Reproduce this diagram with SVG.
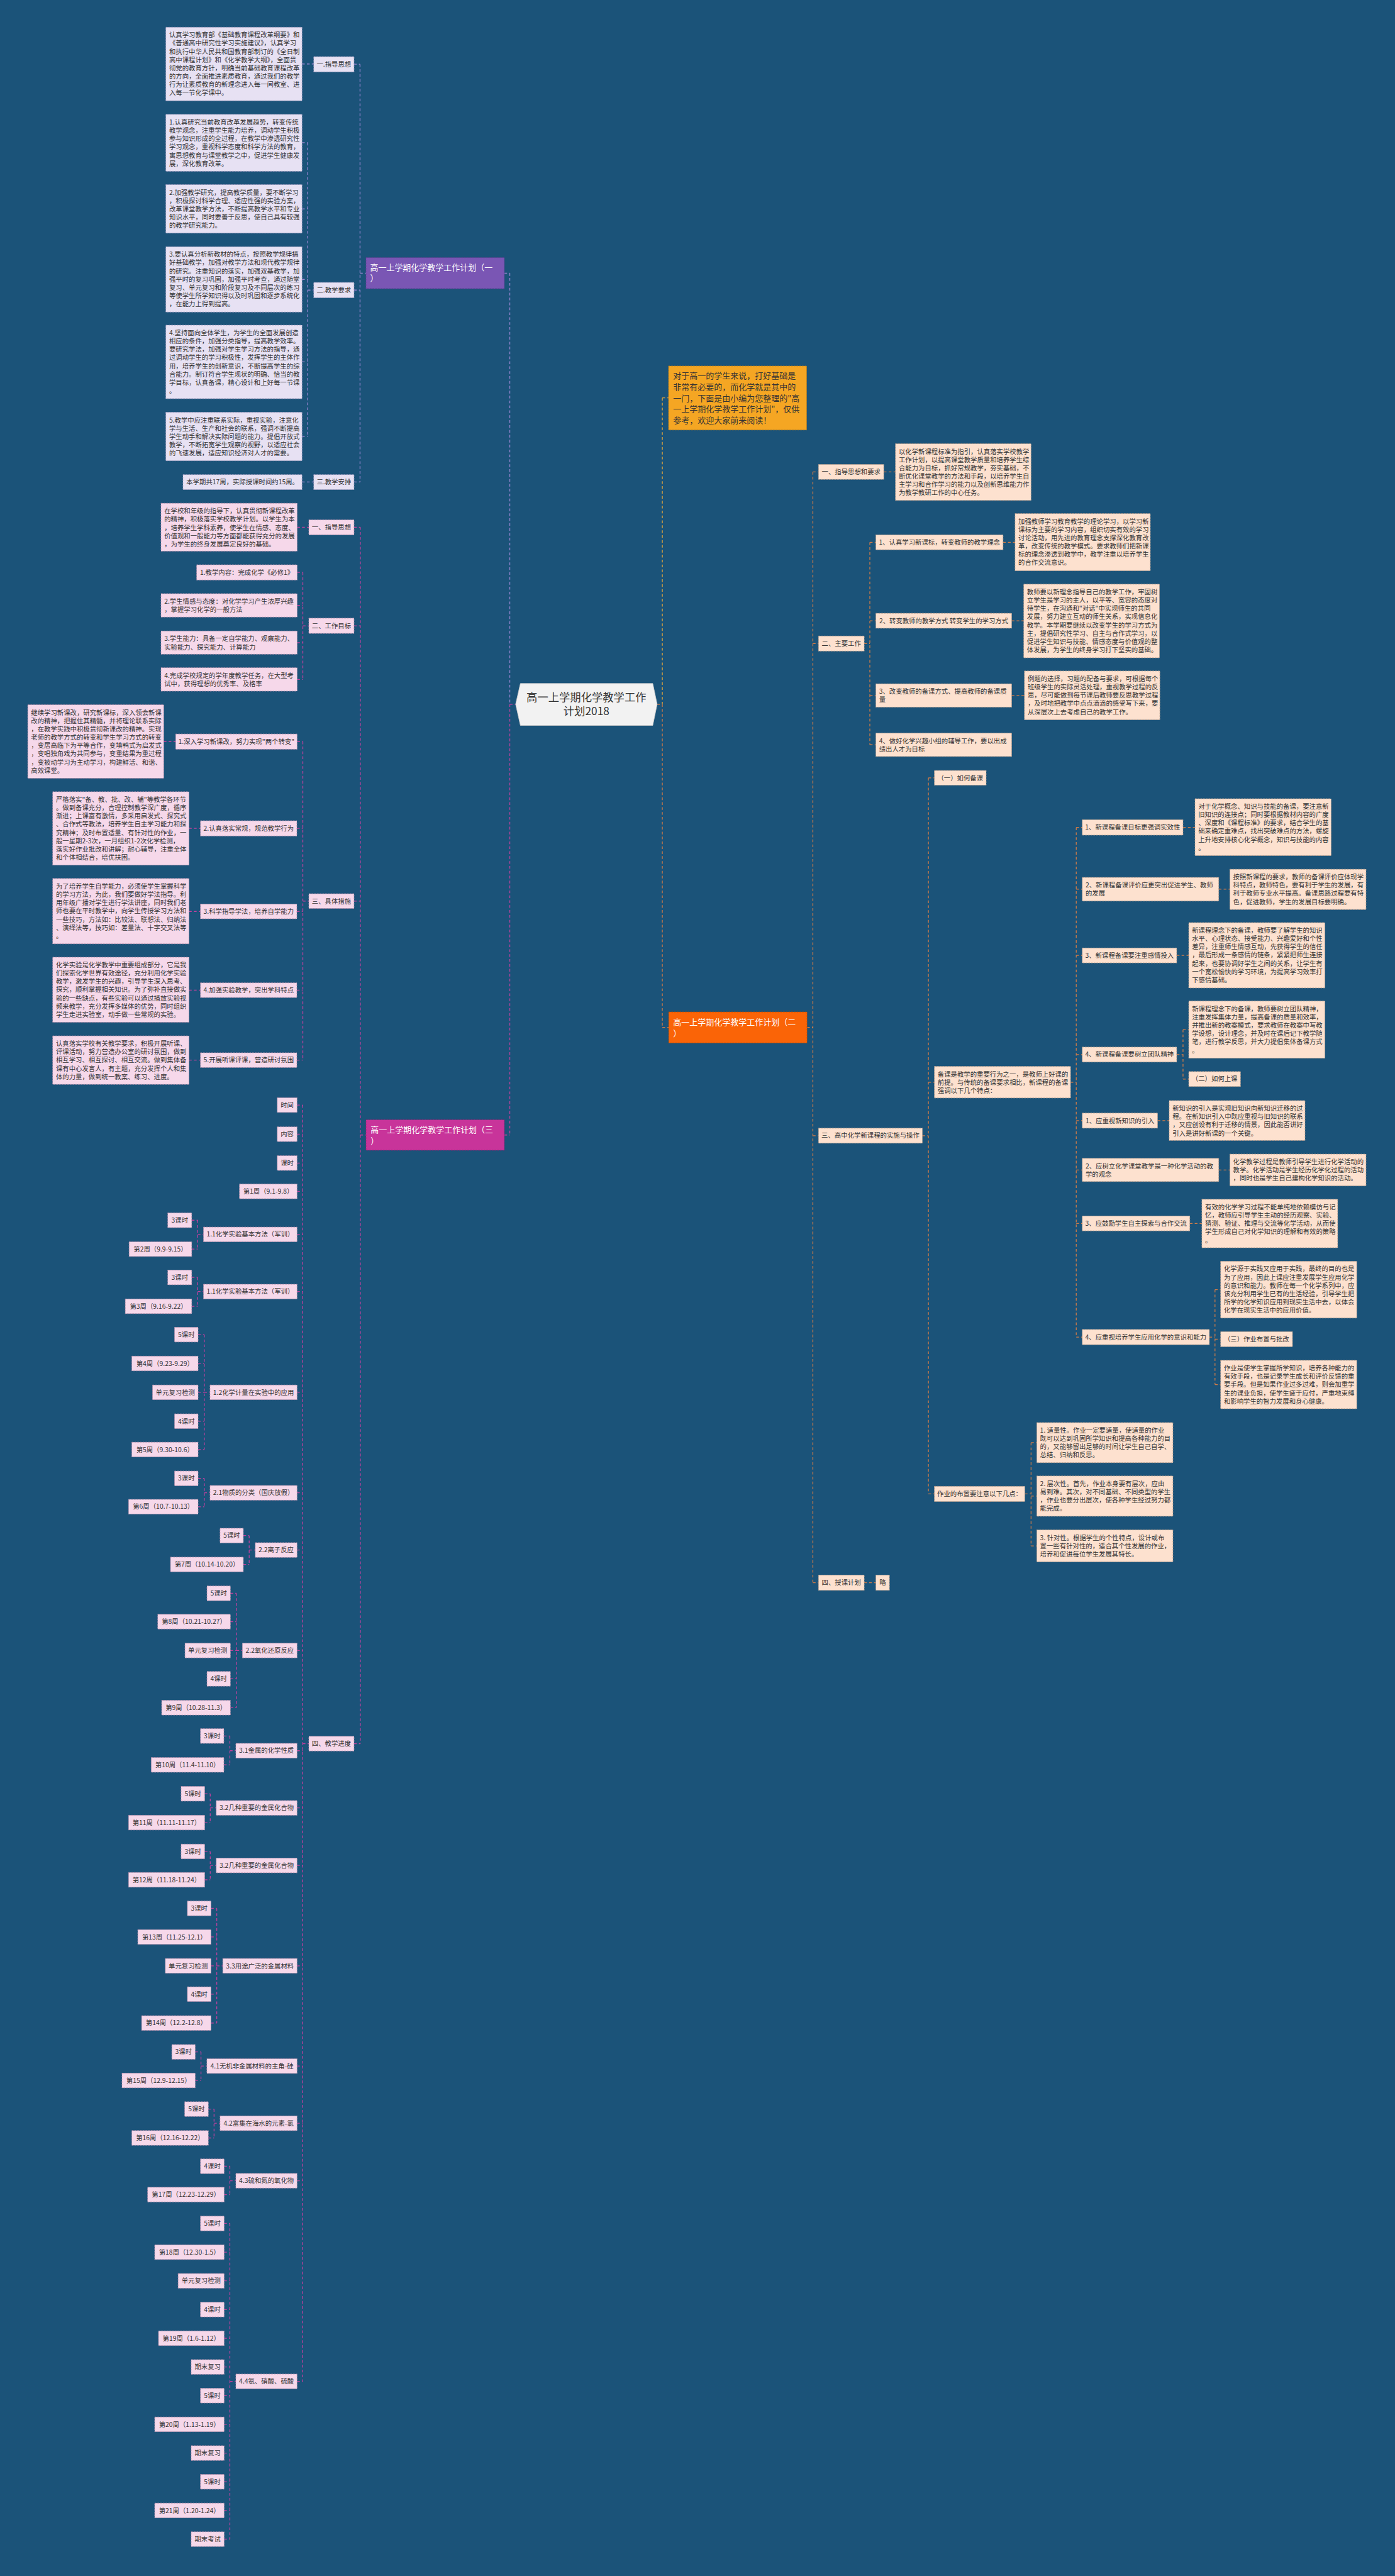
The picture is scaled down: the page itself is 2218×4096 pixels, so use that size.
<svg xmlns="http://www.w3.org/2000/svg" width="2218" height="4096" viewBox="0 0 2218 4096">
<style>
.t{font-family:"Noto Sans CJK SC","Noto Sans",sans-serif;font-size:12px;fill:#333}
.c{text-anchor:middle}
.tw{font-family:"Noto Sans CJK SC","Noto Sans",sans-serif;font-size:15px;fill:#fff}
.ti{font-family:"Noto Sans CJK SC","Noto Sans",sans-serif;font-size:15px;fill:#333}
.tr{font-family:"Noto Sans CJK SC","Noto Sans",sans-serif;font-size:20px;fill:#333;text-anchor:middle}
.nl{fill:#e7e1f3;stroke:#a49cc2;stroke-width:1;stroke-dasharray:3 2}
.np{fill:#f6d8ea;stroke:#b98fab;stroke-width:1;stroke-dasharray:3 2}
.no{fill:#fde1cf;stroke:#b99c8a;stroke-width:1;stroke-dasharray:3 2}
.lp{fill:none;stroke:#9a86d2;stroke-width:1.5;stroke-dasharray:5 4}
.lm{fill:none;stroke:#c2409f;stroke-width:1.5;stroke-dasharray:5 4}
.lo{fill:none;stroke:#cf7b48;stroke-width:1.5;stroke-dasharray:5 4}
.ly{fill:none;stroke:#e8a83a;stroke-width:1.5;stroke-dasharray:5 4}
</style>
<rect x="0" y="0" width="2218" height="4096" fill="#1b5379"/>
<g transform="scale(0.866)">
<g id="connectors">
<path class="lp" d="M936 501.5V1293M926 501.5H936M661 118V885M650 118H661M650 532.6H661M650 885H661M661 501.5H672M554.5 117.5H576M565 262V801.5M554.5 262H565M554.5 383.5H565M554.5 513H565M554.5 664.5H565M554.5 801.5H565M565 532.6H576M554.5 885H576"/>
<path class="lm" d="M936 1293V2084M926 2084H936M936 1293H946.7M661.5 968V3201.5M650 968H661.5M650 1149H661.5M650 1654.5H661.5M650 3201.5H661.5M661.5 2084H672M545.6 968H567M556 1051V1247.5M545.6 1051H556M545.6 1111.5H556M545.6 1180H556M545.6 1247.5H556M556 1149H567M556 1361.7V1946.5M545.6 1361.7H556M545 1521H556M545 1673.5H556M545 1818H556M545 1946.5H556M556 1654.5H567M300.6 1361.7H322.5M347 1521H368M347 1673.5H368M347 1818H368M347 1946.5H368"/>
<path class="lm" d="M555.7 2029V4372.5M555.7 3201.5H567M545.4 2029H555.7M545.4 2082.5H555.7M545.4 2135.5H555.7M545.4 2187.5H555.7M545.4 2266.5H555.7M545.4 2371.5H555.7M545.4 2556.5H555.7M545.4 2741H555.7M545.4 2846H555.7M545.4 3030.5H555.7M545.4 3214.5H555.7M545.4 3319.5H555.7M545.4 3425.2H555.7M545.4 3609.5H555.7M545.4 3793.5H555.7M545.4 3898.5H555.7M545.4 4004.1H555.7M545.4 4372.5H555.7"/>
<path class="lm" d="M352 2240.5H363M352 2293.5H363M363 2240.5V2293.5M363 2266.5H373.6M352 2345.5H363M352 2398.5H363M363 2345.5V2398.5M363 2371.5H373.6M363.75 2450.5H375M363.75 2503.5H375M363.75 2556.5H375M363.75 2609.5H375M363.75 2661.5H375M375 2450.5V2661.5M375 2556.5H385.6M363.75 2714.5H375M363.75 2766.5H375M375 2714.5V2766.5M375 2741H385.6M446.8 2819.5H457.5M446.8 2872.5H457.5M457.5 2819.5V2872.5M457.5 2846H468.7M423 2925.5H434M423 2977.5H434M423 3030.5H434M423 3082.5H434M423 3135.5H434M434 2925.5V3135.5M434 3030.5H445M411 3187.5H422M411 3240.5H422M422 3187.5V3240.5M422 3214.5H433M375.8 3293.5H386M375.8 3346.5H386M386 3293.5V3346.5M386 3319.5H397M375.8 3399.5H386M375.8 3451.5H386M386 3399.5V3451.5M386 3425.2H397M387.4 3504H398M387.4 3556.5H398M387.4 3609.5H398M387.4 3661.5H398M387.4 3714.5H398M398 3504V3714.5M398 3609.5H409M358.4 3767.5H369M358.4 3820H369M369 3767.5V3820M369 3793.5H379.8M382.5 3872.5H393M382.5 3925.5H393M393 3872.5V3925.5M393 3898.5H404M411.5 3977.5H422M411.5 4029.5H422M422 3977.5V4029.5M422 4004.1H433M422 4082.5V4662.2M422 4372.5H433M411.5 4082.5H422M411.5 4135.2H422M411.5 4187.9H422M411.5 4240.6H422M411.5 4293.3H422M411.5 4346H422M411.5 4398.7H422M411.5 4451.4H422M411.5 4504.1H422M411.5 4556.8H422M411.5 4609.5H422M411.5 4662.2H422"/>
<path class="ly" d="M1216 730.6V1293M1216 730.6H1227.4"/>
<path class="lo" d="M1206.5 1293H1216M1216 1293V1886.5M1216 1886.5H1227.7M1481.7 1886.5H1492.4M1492.4 866.4V2906M1492.4 866.4H1502.7M1492.4 1181.6H1502.7M1492.4 2085.2H1502.7M1492.4 2906H1502.7M1622.6 866.4H1644M1586.7 1181.6H1597M1597 995.7V1367.5M1597 995.7H1608M1597 1139.8H1608M1597 1277H1608M1597 1367.5H1608M1841.6 995.7H1863.6M1857.4 1139.8H1879.5M1857.4 1277H1880.8M1693.5 2085.2H1704.5M1704.5 1428.2V2743M1704.5 1428.2H1715.5M1704.5 1987H1715.5M1704.5 2743H1715.5M1965.5 1987H1976M1976 1519.2V2455M1976 1519.2H1987M1976 1632.7H1987M1976 1754.3H1987M1976 1936.3H1987M1976 2057.6H1987M1976 2148.2H1987M1976 2246.4H1987M1976 2455H1987M2172 1519.2H2194M2237.6 1632.7H2258M2160.4 1754.3H2182.5M2160.4 1936.3H2172M2172 1890.5V1981.3M2172 1890.5H2182.5M2172 1981.3H2182.5M2125.3 2057.6H2146.6M2237.6 2148.2H2258M2184.5 2246.4H2206.6M2220.4 2455H2230.7M2230.7 2367.9V2542.2M2230.7 2367.9H2241M2230.7 2458.9H2241M2230.7 2542.2H2241M1881.5 2743H1893M1893 2648.9V2838.4M1893 2648.9H1903.5M1893 2747H1903.5M1893 2838.4H1903.5M1586.7 2906H1608"/>
</g>
<g id="root"><polygon points="955.4,1255 1198.5,1255 1206.5,1293 1198.5,1332 955.4,1332 946.7,1293" fill="#f2f2f2" stroke="#cccccc" stroke-width="1"/><text class="tr" x="1076.6" y="1287.6">高一上学期化学教学工作</text><text class="tr" x="1076.6" y="1313">计划2018</text></g>
<g id="intro"><rect x="1227.4" y="672" width="253.6" height="117.5" fill="#f5a623" stroke="#b07a20" stroke-width="1" stroke-dasharray="3 2"/><text class="ti" x="1236" y="695.7"><tspan x="1236">对于高一的学生来说，打好基础是</tspan><tspan x="1236" dy="20.3">非常有必要的，而化学就是其中的</tspan><tspan x="1236" dy="20.3">一门，下面是由小编为您整理的"高</tspan><tspan x="1236" dy="20.3">一上学期化学教学工作计划"，仅供</tspan><tspan x="1236" dy="20.3">参考，欢迎大家前来阅读！</tspan></text></g>
<g id="title1"><rect x="672" y="473" width="254" height="57" fill="#7a56b4" stroke="#5c3f90" stroke-width="1" stroke-dasharray="3 2"/><text class="tw" x="679.5" y="497.1"><tspan x="679.5">高一上学期化学教学工作计划（一</tspan><tspan x="679.5" dy="19.3">）</tspan></text></g>
<g id="title2"><rect x="1227.7" y="1858" width="254" height="57" fill="#fa6407" stroke="#b04800" stroke-width="1" stroke-dasharray="3 2"/><text class="tw" x="1236" y="1882.6"><tspan x="1236">高一上学期化学教学工作计划（二</tspan><tspan x="1236" dy="20">）</tspan></text></g>
<g id="title3"><rect x="672" y="2056" width="254" height="56" fill="#c8349a" stroke="#8e2070" stroke-width="1" stroke-dasharray="3 2"/><text class="tw" x="680.5" y="2080.2"><tspan x="680.5">高一上学期化学教学工作计划（三</tspan><tspan x="680.5" dy="19.8">）</tspan></text></g>

<g id="p1-l1"><rect class="nl" x="576" y="104" width="74" height="28"/><text class="t c" x="613" y="122.3">一.指导思想</text></g>
<g id="p1-a"><rect class="nl" x="304.5" y="50" width="250" height="135"/><text class="t" x="310.5" y="68.5"><tspan x="310.5">认真学习教育部《基础教育课程改革纲要》和</tspan><tspan x="310.5" dy="15.2">《普通高中研究性学习实施建议》，认真学习</tspan><tspan x="310.5" dy="15.2">和执行中华人民共和国教育部制订的《全日制</tspan><tspan x="310.5" dy="15.2">高中课程计划》和《化学教学大纲》，全面贯</tspan><tspan x="310.5" dy="15.2">彻党的教育方针，明确当前基础教育课程改革</tspan><tspan x="310.5" dy="15.2">的方向，全面推进素质教育，通过我们的教学</tspan><tspan x="310.5" dy="15.2">行为让素质教育的新理念进入每一间教室、进</tspan><tspan x="310.5" dy="15.2">入每一节化学课中。</tspan></text></g>
<g id="p1-l2"><rect class="nl" x="576" y="518.6" width="74" height="28.1"/><text class="t c" x="613" y="536.9">二.教学要求</text></g>
<g id="p1-b1"><rect class="nl" x="304.5" y="210" width="250" height="104.5"/><text class="t" x="310.5" y="228.5"><tspan x="310.5">1.认真研究当前教育改革发展趋势，转变传统</tspan><tspan x="310.5" dy="15.2">教学观念，注重学生能力培养，调动学生积极</tspan><tspan x="310.5" dy="15.2">参与知识形成的全过程，在教学中渗透研究性</tspan><tspan x="310.5" dy="15.2">学习观念，重视科学态度和科学方法的教育，</tspan><tspan x="310.5" dy="15.2">寓思想教育与课堂教学之中，促进学生健康发</tspan><tspan x="310.5" dy="15.2">展，深化教育改革。</tspan></text></g>
<g id="p1-b2"><rect class="nl" x="304.5" y="339" width="250" height="89"/><text class="t" x="310.5" y="357.5"><tspan x="310.5">2.加强教学研究，提高教学质量，要不断学习</tspan><tspan x="310.5" dy="15.2">，积极探讨科学合理、适应性强的实验方案，</tspan><tspan x="310.5" dy="15.2">改革课堂教学方法，不断提高教学水平和专业</tspan><tspan x="310.5" dy="15.2">知识水平，同时要善于反思，使自己具有较强</tspan><tspan x="310.5" dy="15.2">的教学研究能力。</tspan></text></g>
<g id="p1-b3"><rect class="nl" x="304.5" y="453" width="250" height="120"/><text class="t" x="310.5" y="471.5"><tspan x="310.5">3.要认真分析新教材的特点，按照教学规律搞</tspan><tspan x="310.5" dy="15.2">好基础教学，加强对教学方法和现代教学规律</tspan><tspan x="310.5" dy="15.2">的研究。注重知识的落实，加强双基教学，加</tspan><tspan x="310.5" dy="15.2">强平时的复习巩固，加强平时考查，通过随堂</tspan><tspan x="310.5" dy="15.2">复习、单元复习和阶段复习及不同层次的练习</tspan><tspan x="310.5" dy="15.2">等使学生所学知识得以及时巩固和逐步系统化</tspan><tspan x="310.5" dy="15.2">，在能力上得到提高。</tspan></text></g>
<g id="p1-b4"><rect class="nl" x="304.5" y="597" width="250" height="135"/><text class="t" x="310.5" y="615.5"><tspan x="310.5">4.坚持面向全体学生，为学生的全面发展创造</tspan><tspan x="310.5" dy="15.2">相应的条件，加强分类指导，提高教学效率。</tspan><tspan x="310.5" dy="15.2">要研究学法，加强对学生学习方法的指导，通</tspan><tspan x="310.5" dy="15.2">过调动学生的学习积极性，发挥学生的主体作</tspan><tspan x="310.5" dy="15.2">用，培养学生的创新意识，不断提高学生的综</tspan><tspan x="310.5" dy="15.2">合能力。制订符合学生现状的明确、恰当的教</tspan><tspan x="310.5" dy="15.2">学目标，认真备课，精心设计和上好每一节课</tspan><tspan x="310.5" dy="15.2">。</tspan></text></g>
<g id="p1-b5"><rect class="nl" x="304.5" y="757" width="250" height="89"/><text class="t" x="310.5" y="775.5"><tspan x="310.5">5.教学中应注重联系实际，重视实验，注意化</tspan><tspan x="310.5" dy="15.2">学与生活、生产和社会的联系，强调不断提高</tspan><tspan x="310.5" dy="15.2">学生动手和解决实际问题的能力。提倡开放式</tspan><tspan x="310.5" dy="15.2">教学，不断拓宽学生观察的视野，以适应社会</tspan><tspan x="310.5" dy="15.2">的飞速发展，适应知识经济对人才的需要。</tspan></text></g>
<g id="p1-l3"><rect class="nl" x="576" y="871.5" width="74" height="27.5"/><text class="t c" x="613" y="889.5">三.教学安排</text></g>
<g id="p1-c"><rect class="nl" x="336" y="871.5" width="218.5" height="27.5"/><text class="t c" x="445.3" y="889.5">本学期共17周，实际授课时间约15周。</text></g>

<g id="p3-l1"><rect class="np" x="567" y="954.5" width="83" height="27.5"/><text class="t c" x="608.5" y="972.5">一、指导思想</text></g>
<g id="p3-a"><rect class="np" x="295.6" y="924" width="250" height="88"/><text class="t" x="301.6" y="942.5"><tspan x="301.6">在学校和年级的指导下，认真贯彻新课程改革</tspan><tspan x="301.6" dy="15.2">的精神，积极落实学校教学计划。以学生为本</tspan><tspan x="301.6" dy="15.2">，培养学生学科素养，使学生在情感、态度、</tspan><tspan x="301.6" dy="15.2">价值观和一般能力等方面都能获得充分的发展</tspan><tspan x="301.6" dy="15.2">，为学生的终身发展奠定良好的基础。</tspan></text></g>
<g id="p3-l2"><rect class="np" x="567" y="1135" width="83" height="28"/><text class="t c" x="608.5" y="1153.3">二、工作目标</text></g>
<g id="p3-g1"><rect class="np" x="361" y="1037" width="184.6" height="28"/><text class="t c" x="453.3" y="1055.3">1.教学内容：完成化学《必修1》</text></g>
<g id="p3-g2"><rect class="np" x="295.6" y="1090" width="250" height="43"/><text class="t" x="301.6" y="1108.5"><tspan x="301.6">2.学生情感与态度：对化学学习产生浓厚兴趣</tspan><tspan x="301.6" dy="15.2">，掌握学习化学的一般方法</tspan></text></g>
<g id="p3-g3"><rect class="np" x="295.6" y="1158.6" width="250" height="42.6"/><text class="t" x="301.6" y="1177.1"><tspan x="301.6">3.学生能力：具备一定自学能力、观察能力、</tspan><tspan x="301.6" dy="15.2">实验能力、探究能力、计算能力</tspan></text></g>
<g id="p3-g4"><rect class="np" x="295.6" y="1226" width="250" height="43"/><text class="t" x="301.6" y="1244.5"><tspan x="301.6">4.完成学校规定的学年度教学任务，在大型考</tspan><tspan x="301.6" dy="15.2">试中，获得理想的优秀率、及格率</tspan></text></g>
<g id="p3-l3"><rect class="np" x="567" y="1641" width="83" height="27"/><text class="t c" x="608.5" y="1658.8">三、具体措施</text></g>
<g id="p3-m1"><rect class="np" x="322.5" y="1347.7" width="223" height="28"/><text class="t c" x="434" y="1366">1.深入学习新课改，努力实现"两个转变"</text></g>
<g id="p3-m1t"><rect class="np" x="51" y="1294" width="249.6" height="135"/><text class="t" x="57" y="1312.5"><tspan x="57">继续学习新课改，研究新课标，深入领会新课</tspan><tspan x="57" dy="15.2">改的精神，把握住其精髓，并将理论联系实际</tspan><tspan x="57" dy="15.2">，在教学实践中积极贯彻新课改的精神。实现</tspan><tspan x="57" dy="15.2">老师的教学方式的转变和学生学习方式的转变</tspan><tspan x="57" dy="15.2">，变居高临下为平等合作，变填鸭式为启发式</tspan><tspan x="57" dy="15.2">，变唱独角戏为共同参与，变重结果为重过程</tspan><tspan x="57" dy="15.2">，变被动学习为主动学习，构建鲜活、和谐、</tspan><tspan x="57" dy="15.2">高效课堂。</tspan></text></g>
<g id="p3-m2"><rect class="np" x="368" y="1507" width="177" height="28"/><text class="t c" x="456.5" y="1525.3">2.认真落实常规，规范教学行为</text></g>
<g id="p3-m2t"><rect class="np" x="96.7" y="1453.7" width="250.3" height="134.7"/><text class="t" x="102.7" y="1472.2"><tspan x="102.7">严格落实"备、教、批、改、辅"等教学各环节</tspan><tspan x="102.7" dy="15.2">。做到备课充分，合理控制教学深广度，循序</tspan><tspan x="102.7" dy="15.2">渐进；上课富有激情，多采用启发式、探究式</tspan><tspan x="102.7" dy="15.2">、合作式等教法，培养学生自主学习能力和探</tspan><tspan x="102.7" dy="15.2">究精神；及时布置适量、有针对性的作业，一</tspan><tspan x="102.7" dy="15.2">般一星期2-3次，一月组织1-2次化学检测，</tspan><tspan x="102.7" dy="15.2">落实好作业批改和讲解；耐心辅导，注重全体</tspan><tspan x="102.7" dy="15.2">和个体相结合，培优扶困。</tspan></text></g>
<g id="p3-m3"><rect class="np" x="368" y="1660" width="177" height="27"/><text class="t c" x="456.5" y="1677.8">3.科学指导学法，培养自学能力</text></g>
<g id="p3-m3t"><rect class="np" x="96.7" y="1613" width="250.3" height="120"/><text class="t" x="102.7" y="1631.5"><tspan x="102.7">为了培养学生自学能力，必须使学生掌握科学</tspan><tspan x="102.7" dy="15.2">的学习方法，为此，我们要做好学法指导。利</tspan><tspan x="102.7" dy="15.2">用年级广播对学生进行学法讲座，同时我们老</tspan><tspan x="102.7" dy="15.2">师也要在平时教学中，向学生传授学习方法和</tspan><tspan x="102.7" dy="15.2">一些技巧，方法如：比较法、联想法、归纳法</tspan><tspan x="102.7" dy="15.2">、演绎法等，技巧如：差量法、十字交叉法等</tspan><tspan x="102.7" dy="15.2">。</tspan></text></g>
<g id="p3-m4"><rect class="np" x="368" y="1804.6" width="177" height="27"/><text class="t c" x="456.5" y="1822.3">4.加强实验教学，突出学科特点</text></g>
<g id="p3-m4t"><rect class="np" x="96.7" y="1757.5" width="250.3" height="119.5"/><text class="t" x="102.7" y="1776"><tspan x="102.7">化学实验是化学教学中重要组成部分，它是我</tspan><tspan x="102.7" dy="15.2">们探索化学世界有效途径，充分利用化学实验</tspan><tspan x="102.7" dy="15.2">教学，激发学生的兴趣，引导学生深入思考、</tspan><tspan x="102.7" dy="15.2">探究，顺利掌握相关知识。为了弥补直接做实</tspan><tspan x="102.7" dy="15.2">验的一些缺点，有些实验可以通过播放实验视</tspan><tspan x="102.7" dy="15.2">频来教学，充分发挥多媒体的优势，同时组织</tspan><tspan x="102.7" dy="15.2">学生走进实验室，动手做一些常规的实验。</tspan></text></g>
<g id="p3-m5"><rect class="np" x="368" y="1933" width="177" height="27"/><text class="t c" x="456.5" y="1950.8">5.开展听课评课，营造研讨氛围</text></g>
<g id="p3-m5t"><rect class="np" x="96.7" y="1902" width="250.3" height="89"/><text class="t" x="102.7" y="1920.5"><tspan x="102.7">认真落实学校有关教学要求，积极开展听课、</tspan><tspan x="102.7" dy="15.2">评课活动，努力营造办公室的研讨氛围，做到</tspan><tspan x="102.7" dy="15.2">相互学习、相互探讨、相互交流。做到集体备</tspan><tspan x="102.7" dy="15.2">课有中心发言人，有主题，充分发挥个人和集</tspan><tspan x="102.7" dy="15.2">体的力量，做到统一教案、练习、进度。</tspan></text></g>
<g id="p3-l4"><rect class="np" x="567" y="3188" width="83" height="27"/><text class="t c" x="608.5" y="3205.8">四、教学进度</text></g>

<g id="s1"><rect class="np" x="509" y="2015.5" width="36.4" height="27"/><text class="t c" x="527.2" y="2033.3">时间</text></g>
<g id="s2"><rect class="np" x="509" y="2069" width="36.4" height="27"/><text class="t c" x="527.2" y="2086.8">内容</text></g>
<g id="s3"><rect class="np" x="509" y="2122" width="36.4" height="27"/><text class="t c" x="527.2" y="2139.8">课时</text></g>
<g id="s4"><rect class="np" x="439.6" y="2174" width="105.8" height="27"/><text class="t c" x="492.5" y="2191.8">第1周（9.1-9.8）</text></g>
<g id="s5"><rect class="np" x="373.6" y="2253" width="171.8" height="27"/><text class="t c" x="459.5" y="2270.8">1.1化学实验基本方法（军训）</text></g>
<g id="s5a"><rect class="np" x="308" y="2227" width="44" height="27"/><text class="t c" x="330" y="2244.8">3课时</text></g>
<g id="s5b"><rect class="np" x="237" y="2280" width="115" height="27"/><text class="t c" x="294.5" y="2297.8">第2周（9.9-9.15）</text></g>
<g id="s6"><rect class="np" x="373.6" y="2358" width="171.8" height="27"/><text class="t c" x="459.5" y="2375.8">1.1化学实验基本方法（军训）</text></g>
<g id="s6a"><rect class="np" x="308" y="2332" width="44" height="27"/><text class="t c" x="330" y="2349.8">3课时</text></g>
<g id="s6b"><rect class="np" x="230" y="2385" width="122" height="27"/><text class="t c" x="291" y="2402.8">第3周（9.16-9.22）</text></g>
<g id="s7"><rect class="np" x="385.6" y="2543" width="159.8" height="27"/><text class="t c" x="465.5" y="2560.8">1.2化学计量在实验中的应用</text></g>
<g id="s7a"><rect class="np" x="320.4" y="2437" width="43.35" height="27"/><text class="t c" x="342.1" y="2454.8">5课时</text></g>
<g id="s7b"><rect class="np" x="242" y="2490" width="121.75" height="27"/><text class="t c" x="302.9" y="2507.8">第4周（9.23-9.29）</text></g>
<g id="s7c"><rect class="np" x="280" y="2543" width="83.75" height="27"/><text class="t c" x="321.9" y="2560.8">单元复习检测</text></g>
<g id="s7d"><rect class="np" x="320.4" y="2596" width="43.35" height="27"/><text class="t c" x="342.1" y="2613.8">4课时</text></g>
<g id="s7e"><rect class="np" x="242" y="2648" width="121.75" height="27"/><text class="t c" x="302.9" y="2665.8">第5周（9.30-10.6）</text></g>
<g id="s8"><rect class="np" x="385.6" y="2727.5" width="159.8" height="27"/><text class="t c" x="465.5" y="2745.3">2.1物质的分类（国庆放假）</text></g>
<g id="s8a"><rect class="np" x="320.4" y="2701" width="43.35" height="27"/><text class="t c" x="342.1" y="2718.8">3课时</text></g>
<g id="s8b"><rect class="np" x="236" y="2753" width="127.75" height="27"/><text class="t c" x="299.9" y="2770.8">第6周（10.7-10.13）</text></g>
<g id="s9"><rect class="np" x="468.7" y="2832.5" width="76.7" height="27"/><text class="t c" x="507" y="2850.3">2.2离子反应</text></g>
<g id="s9a"><rect class="np" x="404" y="2806" width="42.8" height="27"/><text class="t c" x="425.4" y="2823.8">5课时</text></g>
<g id="s9b"><rect class="np" x="313" y="2859" width="133.8" height="27"/><text class="t c" x="379.9" y="2876.8">第7周（10.14-10.20）</text></g>
<g id="s10"><rect class="np" x="445" y="3017" width="100.4" height="27"/><text class="t c" x="495.2" y="3034.8">2.2氧化还原反应</text></g>
<g id="s10a"><rect class="np" x="380" y="2912" width="43" height="27"/><text class="t c" x="401.5" y="2929.8">5课时</text></g>
<g id="s10b"><rect class="np" x="289.6" y="2964" width="133.4" height="27"/><text class="t c" x="356.3" y="2981.8">第8周（10.21-10.27）</text></g>
<g id="s10c"><rect class="np" x="339.6" y="3017" width="83.4" height="27"/><text class="t c" x="381.3" y="3034.8">单元复习检测</text></g>
<g id="s10d"><rect class="np" x="380" y="3069" width="43" height="27"/><text class="t c" x="401.5" y="3086.8">4课时</text></g>
<g id="s10e"><rect class="np" x="296.8" y="3122" width="126.2" height="27"/><text class="t c" x="359.9" y="3139.8">第9周（10.28-11.3）</text></g>
<g id="s11"><rect class="np" x="433" y="3201" width="112.4" height="27"/><text class="t c" x="489.2" y="3218.8">3.1金属的化学性质</text></g>
<g id="s11a"><rect class="np" x="368" y="3174" width="43" height="27"/><text class="t c" x="389.5" y="3191.8">3课时</text></g>
<g id="s11b"><rect class="np" x="277.6" y="3227" width="133.4" height="27"/><text class="t c" x="344.3" y="3244.8">第10周（11.4-11.10）</text></g>
<g id="s12"><rect class="np" x="397" y="3306" width="148.4" height="27"/><text class="t c" x="471.2" y="3323.8">3.2几种重要的金属化合物</text></g>
<g id="s12a"><rect class="np" x="332.5" y="3280" width="43.3" height="27"/><text class="t c" x="354.2" y="3297.8">5课时</text></g>
<g id="s12b"><rect class="np" x="236" y="3333" width="139.8" height="27"/><text class="t c" x="305.9" y="3350.8">第11周（11.11-11.17）</text></g>
<g id="s13"><rect class="np" x="397" y="3411.7" width="148.4" height="27"/><text class="t c" x="471.2" y="3429.5">3.2几种重要的金属化合物</text></g>
<g id="s13a"><rect class="np" x="332.5" y="3386" width="43.3" height="27"/><text class="t c" x="354.2" y="3403.8">3课时</text></g>
<g id="s13b"><rect class="np" x="236" y="3438" width="139.8" height="27"/><text class="t c" x="305.9" y="3455.8">第12周（11.18-11.24）</text></g>
<g id="s14"><rect class="np" x="409" y="3596" width="136.4" height="27"/><text class="t c" x="477.2" y="3613.8">3.3用途广泛的金属材料</text></g>
<g id="s14a"><rect class="np" x="344" y="3490.5" width="43.4" height="27"/><text class="t c" x="365.7" y="3508.3">3课时</text></g>
<g id="s14b"><rect class="np" x="253" y="3543" width="134.4" height="27"/><text class="t c" x="320.2" y="3560.8">第13周（11.25-12.1）</text></g>
<g id="s14c"><rect class="np" x="303.5" y="3596" width="83.9" height="27"/><text class="t c" x="345.5" y="3613.8">单元复习检测</text></g>
<g id="s14d"><rect class="np" x="344" y="3648" width="43.4" height="27"/><text class="t c" x="365.7" y="3665.8">4课时</text></g>
<g id="s14e"><rect class="np" x="260" y="3701" width="127.4" height="27"/><text class="t c" x="323.7" y="3718.8">第14周（12.2-12.8）</text></g>
<g id="s15"><rect class="np" x="379.8" y="3780" width="165.6" height="27"/><text class="t c" x="462.6" y="3797.8">4.1无机非金属材料的主角-硅</text></g>
<g id="s15a"><rect class="np" x="315.5" y="3754" width="42.9" height="27"/><text class="t c" x="337" y="3771.8">3课时</text></g>
<g id="s15b"><rect class="np" x="224" y="3806.5" width="134.4" height="27"/><text class="t c" x="291.2" y="3824.3">第15周（12.9-12.15）</text></g>
<g id="s16"><rect class="np" x="404" y="3885" width="141.4" height="27"/><text class="t c" x="474.7" y="3902.8">4.2富集在海水的元素-氯</text></g>
<g id="s16a"><rect class="np" x="339" y="3859" width="43.5" height="27"/><text class="t c" x="360.8" y="3876.8">5课时</text></g>
<g id="s16b"><rect class="np" x="242" y="3912" width="140.5" height="27"/><text class="t c" x="312.3" y="3929.8">第16周（12.16-12.22）</text></g>
<g id="s17"><rect class="np" x="433" y="3990.6" width="112.4" height="27"/><text class="t c" x="489.2" y="4008.4">4.3硫和氮的氧化物</text></g>
<g id="s17a"><rect class="np" x="368" y="3964" width="43.5" height="27"/><text class="t c" x="389.8" y="3981.8">4课时</text></g>
<g id="s17b"><rect class="np" x="271" y="4016" width="140.5" height="27"/><text class="t c" x="341.3" y="4033.8">第17周（12.23-12.29）</text></g>
<g id="s18"><rect class="np" x="433" y="4359" width="112.4" height="27"/><text class="t c" x="489.2" y="4376.8">4.4氨、硝酸、硫酸</text></g>
<g id="s18a"><rect class="np" x="368" y="4069" width="43.5" height="27"/><text class="t c" x="389.8" y="4086.8">5课时</text></g>
<g id="s18b"><rect class="np" x="284" y="4121.7" width="127.5" height="27"/><text class="t c" x="347.8" y="4139.5">第18周（12.30-1.5）</text></g>
<g id="s18c"><rect class="np" x="327" y="4174.4" width="84.5" height="27"/><text class="t c" x="369.3" y="4192.2">单元复习检测</text></g>
<g id="s18d"><rect class="np" x="368" y="4227.1" width="43.5" height="27"/><text class="t c" x="389.8" y="4244.9">4课时</text></g>
<g id="s18e"><rect class="np" x="291" y="4279.8" width="120.5" height="27"/><text class="t c" x="351.3" y="4297.6">第19周（1.6-1.12）</text></g>
<g id="s18f"><rect class="np" x="351" y="4332.5" width="60.5" height="27"/><text class="t c" x="381.3" y="4350.3">期末复习</text></g>
<g id="s18g"><rect class="np" x="368" y="4385.2" width="43.5" height="27"/><text class="t c" x="389.8" y="4403">5课时</text></g>
<g id="s18h"><rect class="np" x="284" y="4437.9" width="127.5" height="27"/><text class="t c" x="347.8" y="4455.7">第20周（1.13-1.19）</text></g>
<g id="s18i"><rect class="np" x="351" y="4490.6" width="60.5" height="27"/><text class="t c" x="381.3" y="4508.4">期末复习</text></g>
<g id="s18j"><rect class="np" x="368" y="4543.3" width="43.5" height="27"/><text class="t c" x="389.8" y="4561.1">5课时</text></g>
<g id="s18k"><rect class="np" x="284" y="4596" width="127.5" height="27"/><text class="t c" x="347.8" y="4613.8">第21周（1.20-1.24）</text></g>
<g id="s18l"><rect class="np" x="351" y="4648.7" width="60.5" height="27"/><text class="t c" x="381.3" y="4666.5">期末考试</text></g>

<g id="r-l1"><rect class="no" x="1502.7" y="852.7" width="119.9" height="27.5"/><text class="t c" x="1562.7" y="870.7">一、指导思想和要求</text></g>
<g id="r-a"><rect class="no" x="1644" y="814.7" width="249" height="104.1"/><text class="t" x="1650" y="833.2"><tspan x="1650">以化学新课程标准为指引，认真落实学校教学</tspan><tspan x="1650" dy="15.2">工作计划，以提高课堂教学质量和培养学生综</tspan><tspan x="1650" dy="15.2">合能力为目标，抓好常规教学，夯实基础，不</tspan><tspan x="1650" dy="15.2">断优化课堂教学的方法和手段，以培养学生自</tspan><tspan x="1650" dy="15.2">主学习和合作学习的能力以及创新思维能力作</tspan><tspan x="1650" dy="15.2">为教学教研工作的中心任务。</tspan></text></g>
<g id="r-l2"><rect class="no" x="1502.7" y="1167.8" width="84" height="27.7"/><text class="t c" x="1544.7" y="1185.9">二、主要工作</text></g>
<g id="r-w1"><rect class="no" x="1608" y="982" width="233.6" height="27.4"/><text class="t c" x="1724.8" y="1000">1、认真学习新课标，转变教师的教学理念</text></g>
<g id="r-w1t"><rect class="no" x="1863.6" y="943" width="248.4" height="105"/><text class="t" x="1869.6" y="961.5"><tspan x="1869.6">加强教师学习教育教学的理论学习，以学习新</tspan><tspan x="1869.6" dy="15.2">课标为主要的学习内容，组织切实有效的学习</tspan><tspan x="1869.6" dy="15.2">讨论活动，用先进的教育理念支撑深化教育改</tspan><tspan x="1869.6" dy="15.2">革，改变传统的教学模式。要求教师们把新课</tspan><tspan x="1869.6" dy="15.2">标的理念渗透到教学中，教学注重以培养学生</tspan><tspan x="1869.6" dy="15.2">的合作交流意识。</tspan></text></g>
<g id="r-w2"><rect class="no" x="1608" y="1126" width="249.4" height="27.5"/><text class="t c" x="1732.7" y="1144">2、转变教师的教学方式 转变学生的学习方式</text></g>
<g id="r-w2t"><rect class="no" x="1879.5" y="1072.6" width="249.3" height="135.2"/><text class="t" x="1885.5" y="1091.1"><tspan x="1885.5">教师要以新理念指导自己的教学工作，牢固树</tspan><tspan x="1885.5" dy="15.2">立学生是学习的主人，以平等、宽容的态度对</tspan><tspan x="1885.5" dy="15.2">待学生，在沟通和"对话"中实现师生的共同</tspan><tspan x="1885.5" dy="15.2">发展，努力建立互动的师生关系，实现信息化</tspan><tspan x="1885.5" dy="15.2">教学。本学期要继续以改变学生的学习方式为</tspan><tspan x="1885.5" dy="15.2">主，提倡研究性学习、自主与合作式学习，以</tspan><tspan x="1885.5" dy="15.2">促进学生知识与技能、情感态度与价值观的整</tspan><tspan x="1885.5" dy="15.2">体发展，为学生的终身学习打下坚实的基础。</tspan></text></g>
<g id="r-w3"><rect class="no" x="1608" y="1255.5" width="249.4" height="42.9"/><text class="t" x="1614" y="1274"><tspan x="1614">3、改变教师的备课方式、提高教师的备课质</tspan><tspan x="1614" dy="15.2">量</tspan></text></g>
<g id="r-w3t"><rect class="no" x="1880.8" y="1232" width="248.7" height="89.6"/><text class="t" x="1886.8" y="1250.5"><tspan x="1886.8">例题的选择，习题的配备与要求，可根据每个</tspan><tspan x="1886.8" dy="15.2">班级学生的实际灵活处理，重视教学过程的反</tspan><tspan x="1886.8" dy="15.2">思，尽可能做到每节课后教师要反思教学过程</tspan><tspan x="1886.8" dy="15.2">，及时地把教学中点点滴滴的感受写下来，要</tspan><tspan x="1886.8" dy="15.2">从深层次上去考虑自己的教学工作。</tspan></text></g>
<g id="r-w4"><rect class="no" x="1608" y="1346" width="249.4" height="43"/><text class="t" x="1614" y="1364.5"><tspan x="1614">4、做好化学兴趣小组的辅导工作，要以出成</tspan><tspan x="1614" dy="15.2">绩出人才为目标</tspan></text></g>
<g id="r-l3"><rect class="no" x="1502.7" y="2071.4" width="190.8" height="27.6"/><text class="t c" x="1598.1" y="2089.5">三、高中化学新课程的实施与操作</text></g>
<g id="r-k1"><rect class="no" x="1715.5" y="1414.7" width="95.1" height="27"/><text class="t c" x="1763" y="1432.5">（一）如何备课</text></g>
<g id="r-k2"><rect class="no" x="1715.5" y="1958" width="250" height="58"/><text class="t" x="1721.5" y="1976.5"><tspan x="1721.5">备课是教学的重要行为之一，是教师上好课的</tspan><tspan x="1721.5" dy="15.2">前提。与传统的备课要求相比，新课程的备课</tspan><tspan x="1721.5" dy="15.2">强调以下几个特点：</tspan></text></g>
<g id="r-b1"><rect class="no" x="1987" y="1505" width="185" height="28.4"/><text class="t c" x="2079.5" y="1523.5">1、新课程备课目标更强调实效性</text></g>
<g id="r-b1t"><rect class="no" x="2194" y="1466.5" width="250" height="104.5"/><text class="t" x="2200" y="1485"><tspan x="2200">对于化学概念、知识与技能的备课，要注意新</tspan><tspan x="2200" dy="15.2">旧知识的连接点；同时要根据教材内容的广度</tspan><tspan x="2200" dy="15.2">、深度和《课程标准》的要求，结合学生的基</tspan><tspan x="2200" dy="15.2">础来确定重难点，找出突破难点的方法，螺旋</tspan><tspan x="2200" dy="15.2">上升地安排核心化学概念，知识与技能的内容</tspan><tspan x="2200" dy="15.2">。</tspan></text></g>
<g id="r-b2"><rect class="no" x="1987" y="1611" width="250.6" height="43.4"/><text class="t" x="1993" y="1629.5"><tspan x="1993">2、新课程备课评价应更突出促进学生、教师</tspan><tspan x="1993" dy="15.2">的发展</tspan></text></g>
<g id="r-b2t"><rect class="no" x="2258" y="1596" width="250" height="74"/><text class="t" x="2264" y="1614.5"><tspan x="2264">按照新课程的要求，教师的备课评价应体现学</tspan><tspan x="2264" dy="15.2">科特点，教师特色，要有利于学生的发展，有</tspan><tspan x="2264" dy="15.2">利于教师专业水平提高。备课思路过程要有特</tspan><tspan x="2264" dy="15.2">色，促进教师，学生的发展目标要明确。</tspan></text></g>
<g id="r-b3"><rect class="no" x="1987" y="1740.6" width="173.4" height="27.4"/><text class="t c" x="2073.7" y="1758.6">3、新课程备课要注重感情投入</text></g>
<g id="r-b3t"><rect class="no" x="2182.5" y="1694" width="250" height="120"/><text class="t" x="2188.5" y="1712.5"><tspan x="2188.5">新课程理念下的备课，教师要了解学生的知识</tspan><tspan x="2188.5" dy="15.2">水平、心理状态、接受能力、兴趣爱好和个性</tspan><tspan x="2188.5" dy="15.2">差异，注重师生情感互动，先获得学生的信任</tspan><tspan x="2188.5" dy="15.2">，最后形成一条感情的链条，紧紧把师生连接</tspan><tspan x="2188.5" dy="15.2">起来，也要协调好学生之间的关系，让学生有</tspan><tspan x="2188.5" dy="15.2">一个宽松愉快的学习环境，为提高学习效率打</tspan><tspan x="2188.5" dy="15.2">下感情基础。</tspan></text></g>
<g id="r-b4"><rect class="no" x="1987" y="1922.5" width="173.4" height="27.5"/><text class="t c" x="2073.7" y="1940.5">4、新课程备课要树立团队精神</text></g>
<g id="r-b4t"><rect class="no" x="2182.5" y="1838" width="250" height="105"/><text class="t" x="2188.5" y="1856.5"><tspan x="2188.5">新课程理念下的备课，教师要树立团队精神，</tspan><tspan x="2188.5" dy="15.2">注重发挥集体力量，提高备课的质量和效率，</tspan><tspan x="2188.5" dy="15.2">并推出新的教案模式，要求教师在教案中写教</tspan><tspan x="2188.5" dy="15.2">学设想，设计理念，并及时在课后记下教学随</tspan><tspan x="2188.5" dy="15.2">笔，进行教学反思，并大力提倡集体备课方式</tspan><tspan x="2188.5" dy="15.2">。</tspan></text></g>
<g id="r-b4s"><rect class="no" x="2182.5" y="1967.5" width="95" height="27.5"/><text class="t c" x="2230" y="1985.5">（二）如何上课</text></g>
<g id="r-c1"><rect class="no" x="1987" y="2043.7" width="138.3" height="27.7"/><text class="t c" x="2056.2" y="2061.8">1、应重视新知识的引入</text></g>
<g id="r-c1t"><rect class="no" x="2146.6" y="2020.8" width="249.4" height="73.2"/><text class="t" x="2152.6" y="2039.3"><tspan x="2152.6">新知识的引入是实现旧知识向新知识迁移的过</tspan><tspan x="2152.6" dy="15.2">程。在新知识引入中既应重视与旧知识的联系</tspan><tspan x="2152.6" dy="15.2">，又应创设有利于迁移的情景，因此能否讲好</tspan><tspan x="2152.6" dy="15.2">引入是讲好新课的一个关键。</tspan></text></g>
<g id="r-c2"><rect class="no" x="1987" y="2126.8" width="250.6" height="42.7"/><text class="t" x="1993" y="2145.3"><tspan x="1993">2、应树立化学课堂教学是一种化学活动的教</tspan><tspan x="1993" dy="15.2">学的观念</tspan></text></g>
<g id="r-c2t"><rect class="no" x="2258" y="2119" width="250" height="58.4"/><text class="t" x="2264" y="2137.5"><tspan x="2264">化学教学过程是教师引导学生进行化学活动的</tspan><tspan x="2264" dy="15.2">教学。化学活动是学生经历化学化过程的活动</tspan><tspan x="2264" dy="15.2">，同时也是学生自己建构化学知识的活动。</tspan></text></g>
<g id="r-c3"><rect class="no" x="1987" y="2232.7" width="197.5" height="27.3"/><text class="t c" x="2085.8" y="2250.7">3、应鼓励学生自主探索与合作交流</text></g>
<g id="r-c3t"><rect class="no" x="2206.6" y="2202" width="249.4" height="89"/><text class="t" x="2212.6" y="2220.5"><tspan x="2212.6">有效的化学学习过程不能单纯地依赖模仿与记</tspan><tspan x="2212.6" dy="15.2">忆，教师应引导学生主动的经历观察、实验、</tspan><tspan x="2212.6" dy="15.2">猜测、验证、推理与交流等化学活动，从而使</tspan><tspan x="2212.6" dy="15.2">学生形成自己对化学知识的理解和有效的策略</tspan><tspan x="2212.6" dy="15.2">。</tspan></text></g>
<g id="r-c4"><rect class="no" x="1987" y="2441" width="233.4" height="28"/><text class="t c" x="2103.7" y="2459.3">4、应重视培养学生应用化学的意识和能力</text></g>
<g id="r-c4a"><rect class="no" x="2241" y="2315.8" width="250" height="104.2"/><text class="t" x="2247" y="2334.3"><tspan x="2247">化学源于实践又应用于实践，最终的目的也是</tspan><tspan x="2247" dy="15.2">为了应用，因此上课应注重发展学生应用化学</tspan><tspan x="2247" dy="15.2">的意识和能力。教师在每一个化学系列中，应</tspan><tspan x="2247" dy="15.2">该充分利用学生已有的生活经验，引导学生把</tspan><tspan x="2247" dy="15.2">所学的化学知识应用到现实生活中去，以体会</tspan><tspan x="2247" dy="15.2">化学在现实生活中的应用价值。</tspan></text></g>
<g id="r-c4b"><rect class="no" x="2241" y="2445" width="132" height="27.7"/><text class="t c" x="2307" y="2463.1">（三）作业布置与批改</text></g>
<g id="r-c4c"><rect class="no" x="2241" y="2497.7" width="250" height="88.9"/><text class="t" x="2247" y="2516.2"><tspan x="2247">作业是使学生掌握所学知识，培养各种能力的</tspan><tspan x="2247" dy="15.2">有效手段，也是记录学生成长和评价反馈的重</tspan><tspan x="2247" dy="15.2">要手段。但是如果作业过多过难，则会加重学</tspan><tspan x="2247" dy="15.2">生的课业负担，使学生疲于应付，严重地束缚</tspan><tspan x="2247" dy="15.2">和影响学生的智力发展和身心健康。</tspan></text></g>
<g id="r-k3"><rect class="no" x="1715.5" y="2729" width="166" height="28"/><text class="t c" x="1798.5" y="2747.3">作业的布置要注意以下几点：</text></g>
<g id="r-h1"><rect class="no" x="1903.5" y="2612" width="250" height="73.7"/><text class="t" x="1909.5" y="2630.5"><tspan x="1909.5">1. 适量性。作业一定要适量，使适量的作业</tspan><tspan x="1909.5" dy="15.2">既可以达到巩固所学知识和提高各种能力的目</tspan><tspan x="1909.5" dy="15.2">的，又能够留出足够的时间让学生自己自学、</tspan><tspan x="1909.5" dy="15.2">总结、归纳和反思。</tspan></text></g>
<g id="r-h2"><rect class="no" x="1903.5" y="2710" width="250" height="74"/><text class="t" x="1909.5" y="2728.5"><tspan x="1909.5">2. 层次性。首先，作业本身要有层次，应由</tspan><tspan x="1909.5" dy="15.2">易到难。其次，对不同基础、不同类型的学生</tspan><tspan x="1909.5" dy="15.2">，作业也要分出层次，使各种学生经过努力都</tspan><tspan x="1909.5" dy="15.2">能完成。</tspan></text></g>
<g id="r-h3"><rect class="no" x="1903.5" y="2809" width="250" height="58.7"/><text class="t" x="1909.5" y="2827.5"><tspan x="1909.5">3. 针对性。根据学生的个性特点，设计或布</tspan><tspan x="1909.5" dy="15.2">置一些有针对性的，适合其个性发展的作业，</tspan><tspan x="1909.5" dy="15.2">培养和促进每位学生发展其特长。</tspan></text></g>
<g id="r-l4"><rect class="no" x="1502.7" y="2892" width="84" height="28"/><text class="t c" x="1544.7" y="2910.3">四、授课计划</text></g>
<g id="r-l4t"><rect class="no" x="1608" y="2892" width="25" height="28"/><text class="t c" x="1620.5" y="2910.3">略</text></g>
</g>
</svg>
